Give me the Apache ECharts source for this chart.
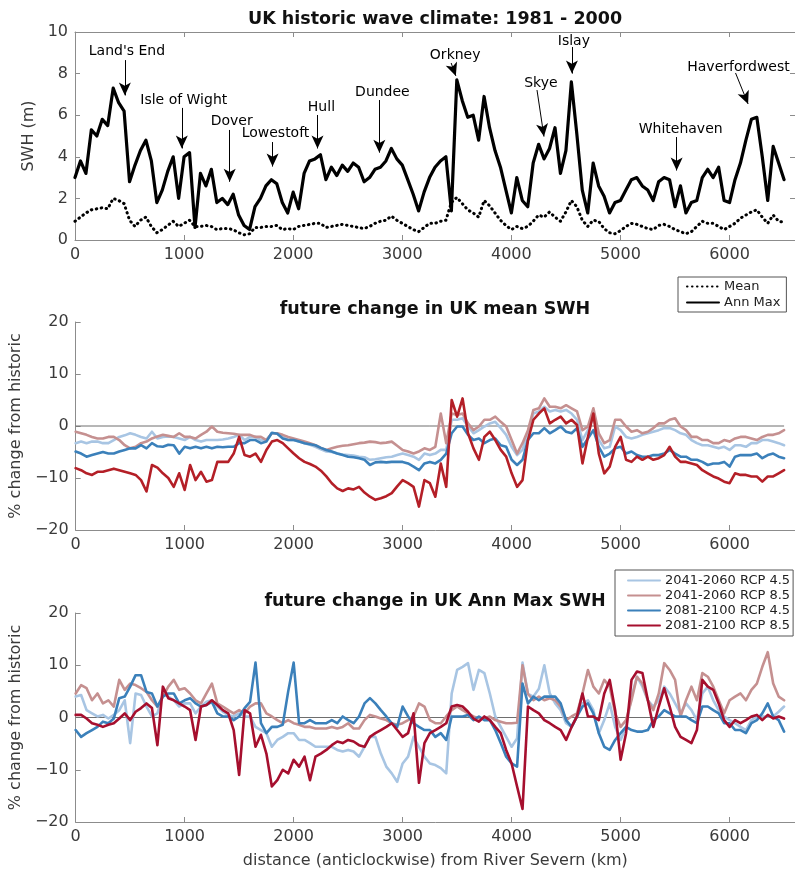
<!DOCTYPE html>
<html>
<head>
<meta charset="utf-8">
<script src="https://cdn.jsdelivr.net/npm/echarts@6/dist/echarts.min.js"></script>
<style>
  html, body { margin: 0; padding: 0; background: #fff; }
  #chart { width: 795px; height: 873px; }
</style>
</head>
<body>
<div id="chart"></div>
<script>
// Distance along the coast (km, anticlockwise from the River Severn)
const distanceKm = [
  0, 50, 100, 150, 200, 250, 300, 350, 400, 450,
  500, 550, 600, 650, 700, 750, 800, 850, 900, 950,
  1000, 1050, 1100, 1150, 1200, 1250, 1300, 1350, 1400, 1450,
  1500, 1550, 1600, 1650, 1700, 1750, 1800, 1850, 1900, 1950,
  2000, 2050, 2100, 2150, 2200, 2250, 2300, 2350, 2400, 2450,
  2500, 2550, 2600, 2650, 2700, 2750, 2800, 2850, 2900, 2950,
  3000, 3050, 3100, 3150, 3200, 3250, 3300, 3350, 3400, 3450,
  3500, 3550, 3600, 3650, 3700, 3750, 3800, 3850, 3900, 3950,
  4000, 4050, 4100, 4150, 4200, 4250, 4300, 4350, 4400, 4450,
  4500, 4550, 4600, 4650, 4700, 4750, 4800, 4850, 4900, 4950,
  5000, 5050, 5100, 5150, 5200, 5250, 5300, 5350, 5400, 5450,
  5500, 5550, 5600, 5650, 5700, 5750, 5800, 5850, 5900, 5950,
  6000, 6050, 6100, 6150, 6200, 6250, 6300, 6350, 6400, 6450,
  6500
];
const distanceTicks = [0, 1000, 2000, 3000, 4000, 5000, 6000];

// Historic significant wave height, 1981-2000 (m)
const annMaxSwh = [
  3.0, 3.8, 3.2, 5.3, 5.0, 5.8, 5.5, 7.3, 6.6, 6.2,
  2.8, 3.6, 4.3, 4.8, 3.8, 1.8, 2.4, 3.3, 4.0, 2.0,
  4.0, 4.2, 0.6, 3.2, 2.6, 3.4, 1.8, 2.0, 1.7, 2.2,
  1.2, 0.7, 0.5, 1.6, 2.0, 2.6, 2.9, 2.7, 1.8, 1.3,
  2.3, 1.5, 3.2, 3.8, 3.9, 4.1, 2.9, 3.5, 3.1, 3.6,
  3.3, 3.7, 3.5, 2.8, 3.0, 3.4, 3.5, 3.8, 4.4, 3.9,
  3.6, 2.9, 2.2, 1.4, 2.3, 3.0, 3.5, 3.8, 4.0, 1.4,
  7.7, 6.7, 5.9, 6.0, 4.8, 6.9, 5.4, 4.3, 3.5, 2.4,
  1.3, 3.0, 1.9, 1.6, 3.7, 4.6, 3.9, 4.4, 5.4, 3.2,
  4.3, 7.6, 5.1, 2.4, 1.3, 3.7, 2.6, 2.1, 1.3, 1.8,
  1.9, 2.4, 2.9, 3.0, 2.6, 2.4, 1.9, 2.8, 3.0, 2.9,
  1.6, 2.6, 1.3, 1.8, 1.9, 3.0, 3.4, 3.0, 3.5, 1.9,
  1.8, 2.9, 3.7, 4.8, 5.8, 5.9, 4.0, 1.9, 4.5, 3.7,
  2.9
];
const meanSwh = [
  0.9, 1.1, 1.3, 1.45, 1.5, 1.55, 1.5, 2.0, 1.9, 1.75,
  0.95, 0.65, 0.95, 1.1, 0.65, 0.35, 0.5, 0.7, 0.9, 0.65,
  0.8, 0.95, 0.65, 0.65, 0.7, 0.65, 0.5, 0.55, 0.55, 0.5,
  0.35, 0.25, 0.3, 0.6, 0.6, 0.65, 0.65, 0.7, 0.5, 0.55,
  0.5, 0.65, 0.7, 0.75, 0.8, 0.8, 0.6, 0.65, 0.7, 0.75,
  0.7, 0.65, 0.6, 0.55, 0.65, 0.8, 0.9, 0.95, 1.15, 0.95,
  0.8, 0.65, 0.5, 0.4, 0.6, 0.8, 0.8, 0.9, 0.95, 1.8,
  2.05, 1.75, 1.45, 1.3, 1.1, 1.9, 1.65, 1.3, 0.95, 0.7,
  0.5, 0.65, 0.55, 0.65, 0.9, 1.2, 1.1, 1.35, 1.1, 0.9,
  1.35, 1.9, 1.6, 0.95, 0.65, 0.95, 0.9, 0.55, 0.35, 0.3,
  0.45, 0.65, 0.8, 0.75, 0.65, 0.55, 0.5, 0.7, 0.75, 0.65,
  0.5, 0.4, 0.3, 0.4, 0.65, 0.9, 0.8, 0.8, 0.65, 0.5,
  0.65, 0.8, 1.05, 1.2, 1.35, 1.45, 1.1, 0.8, 1.2, 0.9,
  0.85
];

// Future change in mean SWH (% from historic)
const mean2041Rcp45 = [
  -3.3, -3.0, -3.3, -3.0, -3.0, -3.3, -3.3, -2.7, -2.1, -1.8,
  -1.4, -1.7, -2.1, -2.4, -1.1, -2.4, -2.1, -2.0, -2.1, -2.4,
  -2.7, -2.1, -2.7, -3.0, -2.7, -2.7, -2.7, -2.6, -2.4, -2.1,
  -1.7, -2.7, -2.1, -2.1, -2.7, -2.7, -1.4, -1.5, -2.1, -2.7,
  -2.7, -3.0, -3.3, -3.6, -4.0, -4.5, -4.9, -5.0, -5.3, -5.5,
  -5.6, -5.7, -5.9, -6.0, -6.5, -6.4, -6.2, -6.0, -5.9, -5.6,
  -5.3, -5.6, -5.9, -6.5, -5.3, -5.6, -5.3, -4.6, -4.6, 1.2,
  1.2, 1.5, -0.1, -1.4, -0.8, -0.1, 0.5, 0.8, -0.4, -1.7,
  -4.0, -5.6, -4.6, -1.4, 2.4, 2.8, 3.7, 2.8, 3.1, 2.8,
  3.1, 2.4, 1.2, -2.7, -0.8, 1.8, -2.7, -4.3, -4.0, -0.1,
  -0.8, -2.1, -2.4, -2.1, -1.7, -1.4, -1.1, -0.8, -0.4, -0.4,
  -0.8, -1.4, -1.7, -2.7, -3.3, -3.7, -3.7, -4.0, -4.3, -4.0,
  -4.6, -3.7, -3.7, -4.0, -3.3, -3.3, -2.7, -2.7, -3.0, -3.3,
  -3.7
];
const mean2041Rcp85 = [
  -1.1, -1.4, -1.7, -2.1, -2.4, -2.4, -2.1, -2.1, -2.7, -3.7,
  -4.3, -4.0, -3.3, -3.0, -2.4, -2.0, -1.7, -1.9, -2.1, -1.4,
  -2.1, -2.1, -2.4, -1.7, -1.1, -0.1, -1.1, -1.3, -1.4, -1.5,
  -1.7, -1.7, -1.7, -2.1, -2.1, -2.7, -1.4, -1.4, -1.7, -2.1,
  -2.4, -2.7, -3.0, -3.3, -3.7, -4.2, -4.6, -4.3, -4.0, -3.8,
  -3.7, -3.5, -3.3, -3.2, -3.0, -3.1, -3.3, -3.2, -3.0, -3.8,
  -4.6, -4.9, -5.3, -4.9, -4.3, -4.6, -4.0, 2.4, -3.3, 2.4,
  2.1, 2.4, 0.5, -0.8, -0.1, 1.2, 1.2, 1.8, 0.8, -0.1,
  -2.7, -5.3, -3.3, -0.8, 3.1, 3.4, 5.3, 3.7, 3.7, 3.4,
  4.0, 3.4, 2.8, -0.8, -0.1, 3.4, -1.4, -3.3, -2.7, 1.2,
  1.2, -0.1, -1.1, -0.8, -1.4, -1.1, -0.4, 0.5, 0.5, 1.2,
  1.5, -0.1, -0.8, -2.1, -2.1, -2.7, -2.7, -3.3, -3.3, -2.7,
  -3.0, -2.4, -2.1, -2.1, -2.4, -2.7, -2.1, -1.7, -1.7, -1.4,
  -0.8
];
const mean2081Rcp45 = [
  -4.9, -5.3, -5.9, -5.6, -5.3, -5.0, -5.3, -5.3, -4.9, -4.6,
  -4.3, -4.3, -3.7, -4.3, -3.3, -3.9, -4.0, -3.6, -3.7, -5.3,
  -4.0, -4.3, -4.0, -4.3, -4.0, -4.3, -4.0, -4.1, -4.0, -4.0,
  -3.3, -3.3, -2.7, -2.7, -3.3, -3.0, -1.3, -1.5, -2.4, -2.7,
  -2.7, -3.0, -3.3, -3.5, -3.7, -4.2, -4.6, -4.9, -5.3, -5.6,
  -5.9, -6.0, -6.2, -6.5, -7.5, -7.0, -6.9, -7.0, -6.9, -6.9,
  -6.9, -7.2, -7.8, -8.5, -7.2, -6.9, -7.2, -6.5, -5.3, -1.4,
  -0.1, -0.1, -1.7, -2.7, -2.4, -3.3, -2.7, -2.4, -3.7, -4.0,
  -6.5, -7.5, -6.5, -2.7, -1.4, -1.4, -0.4, -1.4, -0.8, -0.1,
  -1.1, -1.4, -0.4, -4.0, -2.4, -0.8, -4.0, -5.9, -5.3, -4.3,
  -4.0, -5.3, -4.9, -5.6, -5.9, -5.9, -5.6, -5.6, -5.3, -4.6,
  -5.3, -5.9, -5.9, -6.5, -6.5, -6.9, -7.5, -7.2, -7.2, -6.9,
  -7.8, -5.9, -5.6, -5.6, -5.6, -5.3, -6.2, -5.6, -5.3, -5.9,
  -6.2
];
const mean2081Rcp85 = [
  -8.1, -8.5, -9.1, -9.4, -8.8, -8.8, -8.5, -8.2, -8.5, -8.8,
  -9.1, -9.4, -10.4, -12.6, -7.5, -8.0, -9.1, -10.0, -11.7, -9.1,
  -12.3, -7.5, -10.4, -8.8, -10.7, -10.4, -6.9, -6.9, -6.9, -5.3,
  -2.1, -5.6, -5.9, -5.3, -6.9, -4.6, -3.0, -2.7, -3.3, -4.3,
  -5.3, -6.2, -6.9, -7.3, -7.8, -8.6, -9.7, -11.0, -12.0, -12.5,
  -12.0, -12.2, -11.7, -12.8, -13.6, -14.2, -13.9, -13.5, -12.9, -11.6,
  -10.4, -11.0, -11.7, -15.5, -10.4, -11.0, -13.6, -7.2, -11.7, 5.0,
  1.8, 5.3, -1.4, -4.3, -6.5, -2.1, -1.1, -2.7, -4.6, -5.9,
  -9.1, -11.7, -10.4, -2.7, 1.2, 2.4, 3.4, 0.5, 1.2, 1.8,
  0.5, 1.2, 0.2, -7.2, -2.1, 2.4, -5.3, -9.1, -7.8, -4.0,
  -2.1, -6.5, -6.9, -5.9, -6.5, -5.9, -6.5, -6.2, -5.6, -4.0,
  -5.9, -6.9, -6.9, -7.2, -7.5, -8.5, -9.1, -9.7, -10.1, -10.7,
  -11.0, -9.1, -9.4, -9.4, -9.7, -9.7, -10.7, -9.7, -9.7, -9.1,
  -8.5
];

// Future change in annual maximum SWH (% from historic)
const max2041Rcp45 = [
  4.0, 4.3, 1.4, 0.8, 0.2, 0.5, -0.2, 0.5, 1.4, 3.3,
  -4.9, 4.6, 4.3, 2.1, 0.2, 0.8, 4.6, 4.0, 3.3, 2.1,
  2.7, 2.7, 0.8, 2.1, 3.0, 3.3, 2.1, 1.1, 0.5, 0.2,
  0.8, 0.2, 0.2, -1.8, -2.4, -3.0, -5.6, -4.3, -3.7, -3.0,
  -3.0, -4.3, -4.3, -4.9, -5.6, -5.6, -5.6, -5.6, -6.2, -6.5,
  -6.2, -6.5, -7.5, -5.6, -3.7, -3.7, -6.9, -9.4, -10.7, -12.3,
  -8.8, -7.5, -3.7, -5.6, -7.5, -8.8, -9.1, -9.7, -10.7, 4.6,
  9.1, 9.7, 10.4, 5.3, 9.1, 8.5, 4.6, 0.2, -1.8, -3.7,
  -5.6, -4.0, 10.5, 4.5, 4.0, 5.5, 10.0, 4.6, 2.7, 1.4,
  -1.1, -1.8, 0.2, 2.7, 3.3, 1.4, -3.0, -0.5, 2.7, -1.8,
  -4.3, -1.8, 4.0, 7.8, 5.9, 3.3, 2.1, 3.3, 5.9, 4.6,
  2.7, 0.8, 2.7, 1.4, -0.5, 4.6, 5.9, 3.3, 1.4, 0.2,
  -0.5, -1.1, -1.8, -2.4, -0.5, 0.2, 0.2, 0.2, 0.2, 1.1,
  2.1
];
const max2041Rcp85 = [
  4.6, 6.2, 5.6, 3.3, 4.6, 2.7, 3.3, 2.1, 7.2, 5.3,
  6.5, 6.2, 5.6, 4.9, 3.3, 2.1, 4.0, 5.9, 7.2, 5.3,
  5.6, 4.6, 3.3, 2.7, 4.6, 6.5, 2.7, 2.1, 1.4, 0.8,
  1.4, 0.8, 2.1, 2.7, 2.7, 0.8, 0.2, -0.5, -1.1, -0.5,
  -1.1, -1.4, -1.8, -1.8, -2.1, -2.1, -2.1, -1.8, -2.1, -1.8,
  -1.1, -2.1, -2.1, -0.5, 0.5, 0.2, -0.2, -0.5, -1.1, -1.4,
  -1.1, -0.5, 0.2, 2.7, 2.1, -0.5, -1.1, -1.1, 0.2, 1.4,
  2.1, 1.4, 0.8, 0.2, -0.2, -0.2, 0.2, -0.5, -0.8, -1.1,
  -1.1, -1.0, 10.0, 4.5, 3.3, 4.0, 3.3, 3.7, 3.3, 2.1,
  -0.5, 0.2, 0.8, 4.6, 9.1, 5.9, 4.6, 7.2, 5.9, 0.8,
  -1.8, -0.5, 3.3, 7.8, 6.5, 3.3, 1.4, 4.6, 10.4, 9.1,
  7.2, 0.2, 3.3, 5.9, 3.3, 8.5, 7.8, 5.9, 3.3, 0.8,
  3.3, 4.0, 4.6, 3.3, 5.3, 6.5, 9.7, 12.5, 6.5, 4.0,
  3.3
];
const max2081Rcp45 = [
  -2.4, -3.7, -3.0, -2.4, -1.8, -0.8, -1.1, -0.2, 3.7, 4.0,
  5.9, 8.1, 8.1, 4.9, 4.6, 2.1, 4.0, 4.6, 4.6, 2.7,
  3.3, 3.7, 2.7, 2.1, 2.4, 3.0, 0.8, 0.2, 0.2, -0.5,
  0.2, 1.8, 3.0, 10.5, -1.1, -3.0, -1.8, -1.8, -1.4, 5.0,
  10.5, -1.1, -1.1, -0.5, -1.1, -1.1, -1.1, -0.5, -1.1, 0.2,
  -0.5, -1.1, 0.2, 2.7, 3.7, 2.7, 1.4, 0.2, -1.1, -1.8,
  2.1, 0.2, -1.1, -1.8, -2.4, -2.4, -3.7, -3.0, -4.3, 0.2,
  0.2, 0.2, 0.5, -0.5, 0.2, -0.5, -0.5, -2.4, -4.9, -7.5,
  -8.8, -9.4, 6.5, 2.7, 4.0, 3.3, 4.0, 4.0, 4.0, 2.7,
  -0.5, -1.8, 0.2, 2.1, 2.7, 0.8, -3.0, -5.6, -6.2, -4.3,
  -3.0, -1.8, -2.4, -2.7, -2.7, -2.4, -0.5, 0.2, 1.4, 0.8,
  0.2, 0.2, 0.2, -0.5, -1.1, 2.1, 2.1, 1.4, 0.8, -1.1,
  -1.1, -2.4, -2.4, -3.0, -1.1, -0.5, 0.8, 2.7, 0.2, -0.5,
  -2.7
];
const max2081Rcp85 = [
  0.5, 0.5, -0.2, -1.1, -1.4, -1.8, -1.4, -1.1, -0.2, 0.8,
  -0.5, 1.1, 1.8, 2.7, 1.8, -5.3, 5.9, 3.7, 3.3, 2.7,
  2.1, 1.4, -4.3, 2.1, 2.4, 3.3, 2.4, 1.4, 0.8, -2.4,
  -11.0, 1.4, 0.8, -5.6, -3.3, -6.9, -13.2, -12.0, -10.0, -10.7,
  -8.1, -9.4, -7.5, -12.0, -7.5, -6.9, -6.2, -5.3, -4.6, -4.9,
  -4.3, -4.6, -5.3, -5.6, -3.7, -3.0, -2.4, -1.8, -1.1, -2.4,
  -3.7, -3.0, 0.8, -12.5, -4.9, -3.0, -2.4, -1.8, -1.1, 2.1,
  2.4, 2.1, 1.1, -0.2, -0.8, 0.2, -0.5, -1.8, -3.0, -6.2,
  -8.8, -13.2, -17.5, 2.1, 1.4, 0.8, -0.5, -1.1, -1.8, -2.4,
  -4.3, -1.8, 0.2, 4.6, 0.2, 0.2, -0.5, 4.6, 7.2, 1.4,
  -8.1, -3.0, 7.2, 8.8, 8.5, 3.3, -1.8, 2.1, 5.6, 2.1,
  -1.8, -3.7, -4.3, -4.9, -2.4, 7.2, 5.9, 5.3, 2.7, -0.5,
  -1.8, -0.5, -1.1, -0.5, 0.2, 0.5, -0.5, 0.5, -0.2, 0.2,
  -0.2
];

// Place names along the coast, with label and arrow positions (km, m)
const placeNames = ["Land's End", 'Isle of Wight', 'Dover', 'Lowestoft', 'Hull', 'Dundee',
                    'Orkney', 'Skye', 'Islay', 'Whitehaven', 'Haverfordwest'];
const placeLabelKm  = [476, 997, 1436, 1838, 2259, 2818, 3485, 4271, 4573, 5552, 6082];
const placeLabelSwh = [9.09, 6.73, 5.72, 5.14, 6.39, 7.12, 8.89, 7.55, 9.57, 5.34, 8.32];
const arrowFromKm   = [457, 979, 1418, 1811, 2223, 2790, 3448, 4235, 4555, 5515, 6055];
const arrowFromSwh  = [8.65, 6.35, 5.29, 4.71, 6.01, 6.73, 8.51, 7.21, 9.28, 4.95, 8.03];
const arrowToKm     = [457, 979, 1418, 1811, 2223, 2790, 3491, 4299, 4555, 5515, 6170];
const arrowToSwh    = [6.95, 4.4, 2.8, 3.53, 4.4, 4.2, 7.89, 4.97, 8.0, 3.34, 6.54];

const scenarioNames = ['2041-2060 RCP 4.5', '2041-2060 RCP 8.5', '2081-2100 RCP 4.5', '2081-2100 RCP 8.5'];

const FONT = '"DejaVu Sans", Verdana, sans-serif';
const AXIS_GREY = '#8c8c8c';
const LABEL_GREY = '#3a3a3a';
const C_LIGHT_BLUE = '#a8c5e3';
const C_ROSE = '#c59090';
const C_BLUE = '#3b80ba';
const C_RED_MEAN = '#b41f27';
const C_RED_MAX = '#a60f2e';

const pairs = (vals) => distanceKm.map((d, i) => [d, vals[i]]);

function xAxisFor(grid, position, showLabels) {
  return {
    type: 'value', gridIndex: grid, position: position, min: 0, max: 6600,
    axisLine: { show: true, onZero: false, lineStyle: { color: AXIS_GREY, width: 1 } },
    axisTick: { show: true, inside: true, length: 5, customValues: distanceTicks,
                lineStyle: { color: AXIS_GREY } },
    axisLabel: { show: showLabels, customValues: distanceTicks, color: LABEL_GREY,
                 fontSize: 16, fontFamily: FONT, margin: 7, formatter: (v) => String(v) },
    splitLine: { show: false }
  };
}
function yAxisFor(grid, position, min, max, interval, showLabels, name, gap) {
  return {
    type: 'value', gridIndex: grid, position: position, min: min, max: max, interval: interval,
    name: name, nameLocation: 'middle', nameGap: gap,
    nameTextStyle: { fontSize: 16, color: LABEL_GREY, fontFamily: FONT },
    axisLine: { show: true, onZero: false, lineStyle: { color: AXIS_GREY, width: 1 } },
    axisTick: { show: true, inside: true, length: 5, lineStyle: { color: AXIS_GREY } },
    axisLabel: { show: showLabels, color: LABEL_GREY, fontSize: 16, fontFamily: FONT, margin: 7,
                 formatter: (v) => String(v).replace('-', '\u2212') },
    splitLine: { show: false }
  };
}
function lineSeries(name, vals, axisIdx, color, width, dash) {
  return {
    type: 'line', name: name, xAxisIndex: axisIdx.x, yAxisIndex: axisIdx.y,
    data: pairs(vals), symbol: 'none', showSymbol: false, silent: true,
    lineStyle: { color: color, width: width, type: dash || 'solid', cap: 'round', join: 'round' },
    itemStyle: { color: color }
  };
}
function zeroLine(axisIdx) {
  return {
    type: 'line', name: 'zero', xAxisIndex: axisIdx.x, yAxisIndex: axisIdx.y, silent: true,
    data: [[distanceKm[0], 0], [distanceKm[distanceKm.length - 1], 0]],
    symbol: 'none', lineStyle: { color: '#6e6e6e', width: 1 }, z: 1
  };
}

const topAx = { x: 0, y: 0 };
const midAx = { x: 2, y: 2 };
const botAx = { x: 3, y: 3 };

const legendBase = {
  orient: 'vertical', selectedMode: false, itemWidth: 32, itemHeight: 14,
  borderColor: '#555', borderWidth: 1, borderRadius: 0, backgroundColor: '#fff',
  itemStyle: { opacity: 0 },
  textStyle: { fontSize: 13, color: '#222', fontFamily: FONT }
};

const titleStyle = (text) => ({
  text: text, font: 'bold 17.5px ' + FONT, fill: '#111',
  align: 'center', verticalAlign: 'middle', textAlign: 'center', textVerticalAlign: 'middle'
});

const option = {
  animation: false,
  backgroundColor: '#fff',
  textStyle: { fontFamily: FONT },
  grid: [
    { left: 75, right: 0, top: 32, height: 208 },
    { left: 75, right: 0, top: 322, height: 208 },
    { left: 75, right: 0, top: 613, height: 209 }
  ],
  xAxis: [
    xAxisFor(0, 'bottom', true),
    xAxisFor(0, 'top', false),
    xAxisFor(1, 'bottom', true),
    Object.assign(xAxisFor(2, 'bottom', true), {
      name: 'distance (anticlockwise) from River Severn (km)', nameLocation: 'middle', nameGap: 31,
      nameTextStyle: { fontSize: 16, color: LABEL_GREY, fontFamily: FONT }
    })
  ],
  yAxis: [
    yAxisFor(0, 'left', 0, 10, 2, true, 'SWH (m)', 36),
    yAxisFor(0, 'right', 0, 10, 2, false, '', 0),
    yAxisFor(1, 'left', -20, 20, 10, true, '% change from historic', 45),
    yAxisFor(2, 'left', -20, 20, 10, true, '% change from historic', 45)
  ],
  graphic: [
    { type: 'text', x: 435, y: 19, silent: true, style: titleStyle('UK historic wave climate: 1981 - 2000') },
    { type: 'text', x: 435, y: 309, silent: true, style: titleStyle('future change in UK mean SWH') },
    { type: 'text', x: 435, y: 601, silent: true, style: titleStyle('future change in UK Ann Max SWH') }
  ],
  legend: [
    Object.assign({}, legendBase, {
      data: ['Mean', 'Ann Max'], left: 678, top: 277, itemGap: 3, padding: [3, 6, 3, 8]
    }),
    Object.assign({}, legendBase, {
      data: scenarioNames, left: 615, top: 570, itemGap: 2, padding: [4, 3, 4, 12]
    })
  ],
  series: [
    // annual maximum change (listed first so the legend takes these colours)
    zeroLine(botAx),
    lineSeries(scenarioNames[0], max2041Rcp45, botAx, C_LIGHT_BLUE, 2.6),
    lineSeries(scenarioNames[1], max2041Rcp85, botAx, C_ROSE, 2.6),
    lineSeries(scenarioNames[2], max2081Rcp45, botAx, C_BLUE, 2.6),
    lineSeries(scenarioNames[3], max2081Rcp85, botAx, C_RED_MAX, 2.6),

    // mean change
    zeroLine(midAx),
    lineSeries(scenarioNames[0], mean2041Rcp45, midAx, C_LIGHT_BLUE, 2.6),
    lineSeries(scenarioNames[1], mean2041Rcp85, midAx, C_ROSE, 2.6),
    lineSeries(scenarioNames[2], mean2081Rcp45, midAx, C_BLUE, 2.6),
    lineSeries(scenarioNames[3], mean2081Rcp85, midAx, C_RED_MEAN, 2.6),

    // historic climate
    lineSeries('Mean', meanSwh, topAx, '#000', 3, [0.5, 4.5]),
    Object.assign(lineSeries('Ann Max', annMaxSwh, topAx, '#000', 3.2), {
      markLine: {
        silent: true, animation: false,
        symbol: ['none', 'arrow'], symbolSize: [9, 13],
        lineStyle: { color: '#000', width: 1, type: 'solid' },
        label: { show: false },
        emphasis: { disabled: true },
        data: placeNames.map((n, i) => [
          { coord: [arrowFromKm[i], arrowFromSwh[i]] },
          { coord: [arrowToKm[i], arrowToSwh[i]] }
        ])
      }
    }),
    {
      type: 'scatter', name: 'places', xAxisIndex: 0, yAxisIndex: 0, silent: true,
      symbolSize: 1, itemStyle: { color: 'rgba(0,0,0,0)' },
      data: placeNames.map((n, i) => ({ name: n, value: [placeLabelKm[i], placeLabelSwh[i]] })),
      label: { show: true, position: 'inside', formatter: '{b}', fontSize: 14, opacity: 1,
               color: '#000', fontFamily: FONT, textBorderWidth: 0 }
    }
  ]
};

const chart = echarts.init(document.getElementById('chart'), null, { renderer: 'canvas' });
chart.setOption(option);
</script>
</body>
</html>
